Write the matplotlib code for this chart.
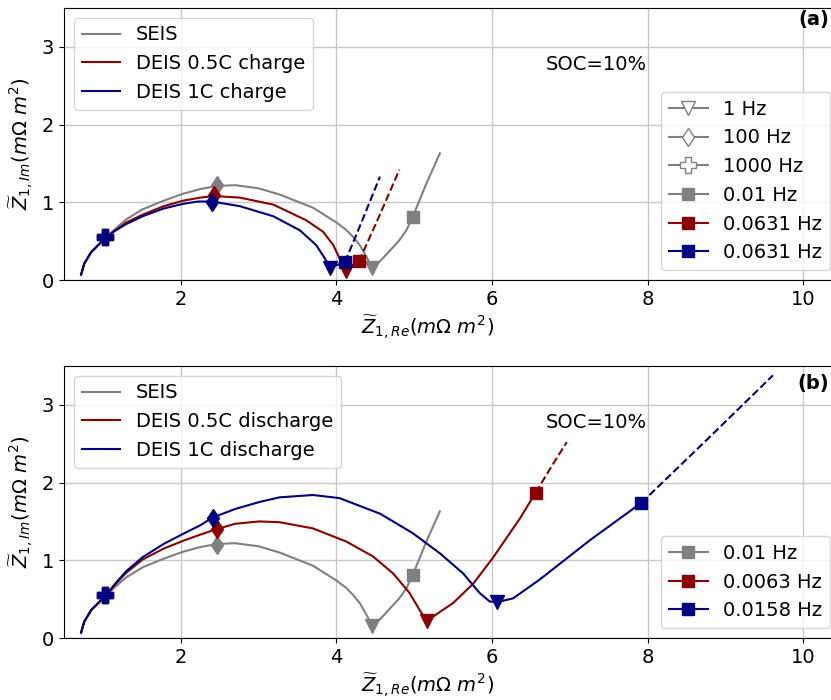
import matplotlib
matplotlib.use('Agg')
import matplotlib.pyplot as plt
from matplotlib.lines import Line2D

plt.rcParams['font.size'] = 14

# SEIS curve (same in both panels)
seis_x = [0.72, 0.76, 0.85, 0.94, 1.04, 1.15, 1.30, 1.51, 1.78, 2.03, 2.25, 2.47, 2.70, 3.00, 3.27, 3.70, 4.00, 4.12, 4.21,
          4.30, 4.38, 4.46, 4.56, 4.68, 4.80, 4.90, 4.98, 5.16, 5.33]
seis_y = [0.07, 0.21, 0.36, 0.45, 0.55, 0.65, 0.78, 0.91, 1.02, 1.11, 1.17, 1.21, 1.22, 1.18, 1.10, 0.93, 0.74, 0.65, 0.56,
          0.45, 0.31, 0.16, 0.24, 0.37, 0.50, 0.64, 0.81, 1.25, 1.63]

# panel (a) DEIS charge
ch05_x = [0.72, 0.76, 0.85, 0.94, 1.04, 1.15, 1.30, 1.51, 1.78, 2.03, 2.25, 2.43, 2.76, 3.19, 3.61, 3.83, 3.96, 4.04, 4.12,
          4.29]
ch05_y = [0.07, 0.21, 0.36, 0.45, 0.55, 0.63, 0.74, 0.84, 0.95, 1.02, 1.06, 1.08, 1.06, 0.97, 0.77, 0.62, 0.45, 0.28, 0.11,
          0.24]
ch05_dash_x = [4.29, 4.55, 4.81]
ch05_dash_y = [0.24, 0.82, 1.42]

ch1_x = [0.72, 0.76, 0.85, 0.94, 1.04, 1.15, 1.30, 1.51, 1.78, 2.03, 2.22, 2.40, 2.76, 3.19, 3.53, 3.74, 3.85, 3.92, 4.11]
ch1_y = [0.07, 0.21, 0.36, 0.45, 0.55, 0.63, 0.72, 0.82, 0.92, 0.98, 1.01, 1.01, 0.95, 0.82, 0.64, 0.45, 0.28, 0.16, 0.23]
ch1_dash_x = [4.11, 4.33, 4.56]
ch1_dash_y = [0.23, 0.76, 1.33]

# panel (b) DEIS discharge
dis05_x = [0.72, 0.76, 0.85, 0.94, 1.04, 1.15, 1.30, 1.51, 1.78, 2.03, 2.25, 2.46, 2.70, 3.01, 3.27, 3.70, 4.13, 4.47, 4.73,
           4.94, 5.07, 5.16, 5.50, 5.76, 6.01, 6.36, 6.56]
dis05_y = [0.07, 0.21, 0.36, 0.45, 0.55, 0.68, 0.84, 1.01, 1.15, 1.25, 1.33, 1.40, 1.47, 1.50, 1.49, 1.41, 1.24, 1.05, 0.83,
           0.58, 0.36, 0.22, 0.45, 0.70, 1.03, 1.54, 1.87]
dis05_dash_x = [6.56, 6.76, 6.96]
dis05_dash_y = [1.87, 2.20, 2.52]

dis1_x = [0.72, 0.76, 0.85, 0.94, 1.04, 1.15, 1.30, 1.51, 1.78, 2.03, 2.25, 2.41, 2.70, 3.01, 3.27, 3.70, 4.04, 4.56, 4.98,
          5.33, 5.63, 5.84, 5.97, 6.06, 6.27, 6.61, 7.26, 7.92]
dis1_y = [0.07, 0.21, 0.36, 0.45, 0.55, 0.69, 0.86, 1.04, 1.21, 1.34, 1.45, 1.55, 1.66, 1.75, 1.81, 1.84, 1.80, 1.60, 1.35,
          1.09, 0.83, 0.58, 0.47, 0.46, 0.51, 0.75, 1.26, 1.74]
dis1_dash_x = [7.92, 8.77, 9.61]
dis1_dash_y = [1.74, 2.56, 3.38]

# frequency markers: [seis, 0.5C, 1C]
a_plus = [(1.03, 0.55), (1.03, 0.55), (1.03, 0.55)]
a_diam = [(2.47, 1.22), (2.43, 1.10), (2.40, 1.00)]
a_tri = [(4.46, 0.16), (4.12, 0.11), (3.92, 0.16)]
a_sq = [(4.98, 0.81), (4.29, 0.24), (4.11, 0.23)]

b_plus = [(1.03, 0.55), (1.03, 0.55), (1.03, 0.55)]
b_diam = [(2.47, 1.20), (2.46, 1.40), (2.41, 1.55)]
b_tri = [(4.46, 0.16), (5.16, 0.22), (6.06, 0.46)]
b_sq = [(4.98, 0.81), (6.56, 1.87), (7.92, 1.74)]

colors = ['gray', 'darkred', 'navy']
a_labels = ['SEIS', 'DEIS 0.5C charge', 'DEIS 1C charge']
b_labels = ['SEIS', 'DEIS 0.5C discharge', 'DEIS 1C discharge']
a_freq_labels = ['1 Hz', '100 Hz', '1000 Hz', '0.01 Hz', '0.0631 Hz', '0.0631 Hz']
b_freq_labels = ['0.01 Hz', '0.0063 Hz', '0.0158 Hz']

W, H = 831, 700
fig = plt.figure(figsize=(W / 100, H / 100), dpi=100)
ax_a = fig.add_axes([64 / W, 420 / H, 786 / W, 272 / H])
ax_b = fig.add_axes([64 / W, 62 / H, 786 / W, 272 / H])


def draw_panel(ax, curves, dashes, plus, diam, tri, sq, labels):
    for i in range(3):
        cx, cy = curves[i]
        ax.plot(cx, cy, color=colors[i], lw=1.5, label=labels[i], zorder=2)
        if dashes[i] is not None:
            ax.plot(dashes[i][0], dashes[i][1], color=colors[i], lw=1.5, ls='--', zorder=2)
    for i in range(3):
        c = colors[i]
        ax.plot(*plus[i], marker='P', ms=12, color=c, ls='none', zorder=3)
        ax.plot(*diam[i], marker='d', ms=9.5, color=c, ls='none', zorder=3)
        ax.plot(*tri[i], marker='v', ms=10, color=c, ls='none', zorder=3)
        ax.plot(*sq[i], marker='s', ms=8.5, color=c, ls='none', zorder=3)
    ax.set_xlim(0.5, 10.6)
    ax.set_ylim(0, 3.5)
    ax.set_xticks([2, 4, 6, 8, 10])
    ax.set_yticks([0, 1, 2, 3])
    ax.grid(True, color='#c8c8c8', lw=1)
    ax.set_axisbelow(True)
    ax.set_xlabel(r'$\widetilde{Z}_{1,Re}(m\Omega\ m^2)$', fontsize=14)
    ax.set_ylabel(r'$\widetilde{Z}_{1,Im}(m\Omega\ m^2)$', fontsize=14)
    ax.xaxis.label.set_x((428 - 64) / 786)
    ax.text(6.69, 2.77, 'SOC=10%', ha='left', va='center', fontsize=14)
    leg = ax.legend(loc='upper left', fontsize=14)
    ax.add_artist(leg)


draw_panel(ax_a, [(seis_x, seis_y), (ch05_x, ch05_y), (ch1_x, ch1_y)],
           [None, (ch05_dash_x, ch05_dash_y), (ch1_dash_x, ch1_dash_y)],
           a_plus, a_diam, a_tri, a_sq, a_labels)
draw_panel(ax_b, [(seis_x, seis_y), (dis05_x, dis05_y), (dis1_x, dis1_y)],
           [None, (dis05_dash_x, dis05_dash_y), (dis1_dash_x, dis1_dash_y)],
           b_plus, b_diam, b_tri, b_sq, b_labels)

# panel tags, kept just inside the right edge
ax_a.text(0.998, 0.985, '(a)', fontweight='bold', ha='right', va='top', fontsize=14, transform=fig.transFigure)
ax_b.text(0.998, 0.465, '(b)', fontweight='bold', ha='right', va='top', fontsize=14, transform=fig.transFigure)

# frequency legends
g = 'gray'
a_handles = [
    Line2D([], [], color=g, marker='v', ms=10, mfc='white', mec=g),
    Line2D([], [], color=g, marker='d', ms=9.5, mfc='white', mec=g),
    Line2D([], [], color=g, marker='P', ms=11, mfc='white', mec=g),
    Line2D([], [], color=g, marker='s', ms=8.5),
    Line2D([], [], color='darkred', marker='s', ms=8.5),
    Line2D([], [], color='navy', marker='s', ms=8.5),
]
ax_a.legend(a_handles, a_freq_labels, loc='lower right', fontsize=14, borderaxespad=0,
            bbox_to_anchor=(830 / W, (H - 270) / H), bbox_transform=fig.transFigure)

b_handles = [Line2D([], [], color=c, marker='s', ms=8.5) for c in colors]
ax_b.legend(b_handles, b_freq_labels, loc='lower right', fontsize=14, borderaxespad=0,
            bbox_to_anchor=(830 / W, (H - 628) / H), bbox_transform=fig.transFigure)

fig.savefig('out.png', dpi=100)
